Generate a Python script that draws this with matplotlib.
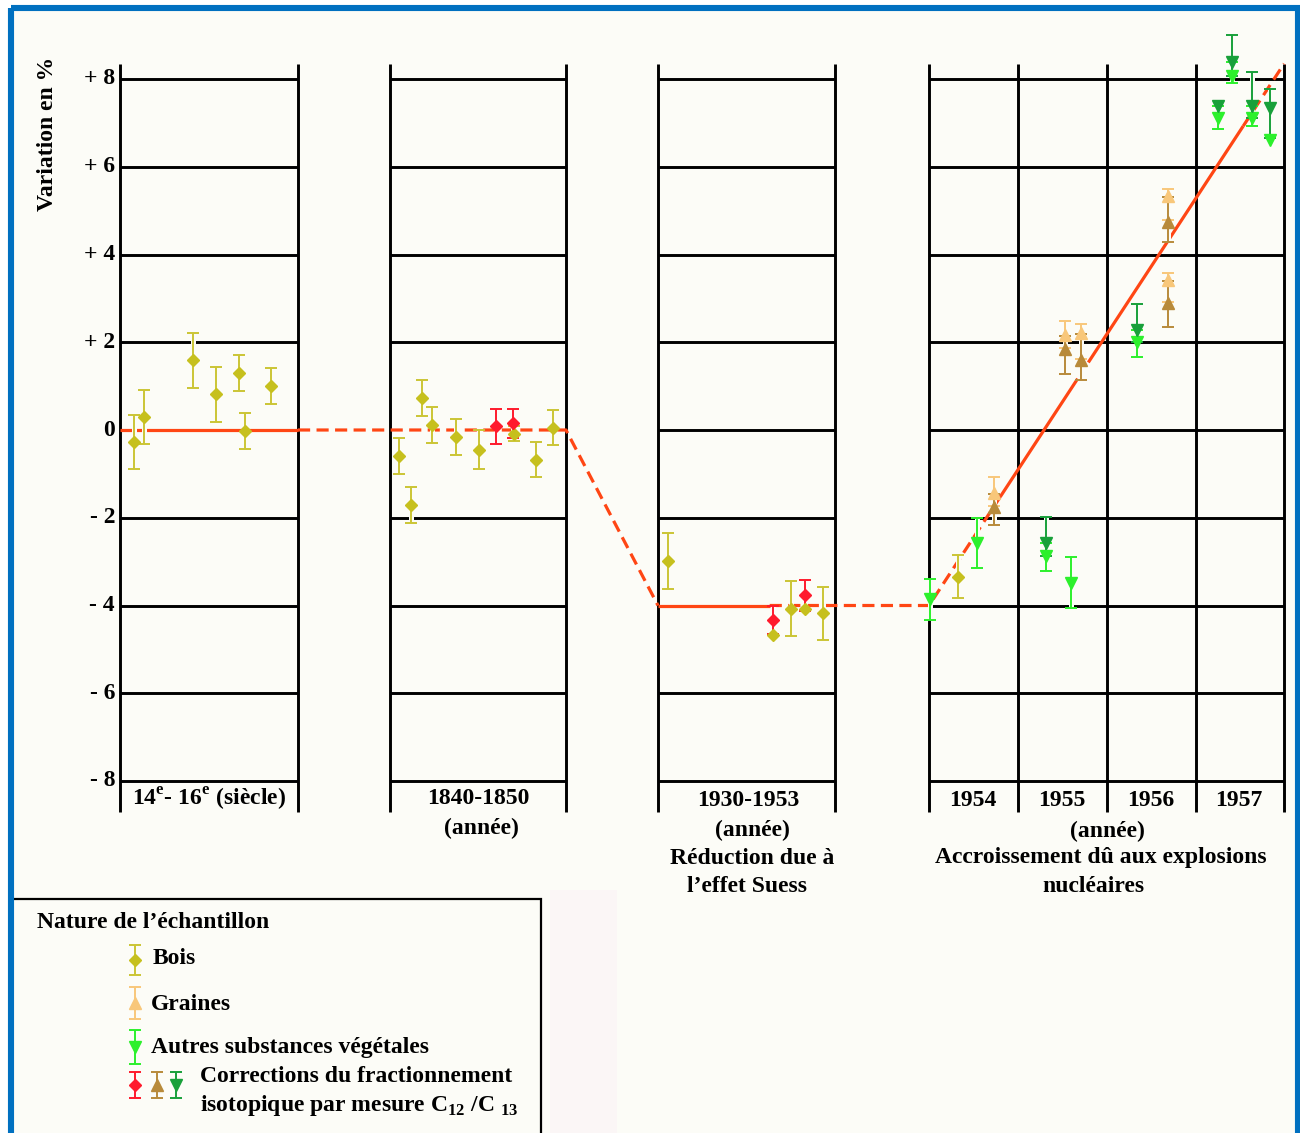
import numpy as np
import matplotlib
matplotlib.use('Agg')
import matplotlib.pyplot as plt
from matplotlib.patches import Rectangle
import matplotlib.patheffects as pe

nan = np.nan

# ---------------- data ----------------
ytick_vals = [8, 6, 4, 2, 0, -2, -4, -6, -8]
ytick_labels = ['+ 8', '+ 6', '+ 4', '+ 2', '0', '- 2', '- 4', '- 6', '- 8']

# panel boundaries (x units) ; last panel divided in years
panel_edges = [[0.0, 2.0], [3.034, 5.011], [6.045, 8.034],
               [9.09, 10.09, 11.09, 12.09, 13.08]]
panel_flat = [0, 0, -4, None]
year_labels = ['1954', '1955', '1956', '1957']

# Bois
bois_x = [0.157, 0.27, 0.82, 1.08, 1.34, 1.40, 1.70,
          3.13, 3.27, 3.39, 3.50, 3.77, 4.03, 4.43, 4.67, 4.86,
          6.16, 7.34, 7.54, 7.70, 7.90,
          9.412]
bois_y = [-0.27, 0.29, 1.59, 0.81, 1.31, -0.02, 1.01,
          -0.60, -1.71, 0.74, 0.11, -0.17, -0.45, -0.09, -0.68, 0.05,
          -2.98, -4.67, -4.07, -4.07, -4.18,
          -3.34]
bois_err = [0.62, 0.62, 0.63, 0.62, 0.41, 0.41, 0.41,
            0.41, 0.40, 0.41, 0.41, 0.41, 0.44, 0.17, 0.40, 0.40,
            0.64, nan, 0.62, nan, 0.61,
            0.49]

# Bois, corrections C12/C13
boisc_x = [4.22, 4.42, 7.34, 7.70]
boisc_y = [0.09, 0.15, -4.33, -3.77]
boisc_err = [0.40, 0.34, 0.33, 0.35]

# Graines
gr_x = [9.824, 10.618, 10.794, 11.77, 11.77]
gr_y = [-1.44, 2.16, 2.22, 5.33, 3.42]
gr_err_low = [0.30, 0.30, 0.60, 0.55, 0.50]
gr_err_high = [0.36, 0.33, 0.20, 0.17, 0.16]

# Graines, corrections
grc_x = [9.824, 10.618, 10.794, 11.77, 11.77]
grc_y = [-1.76, 1.84, 1.59, 4.75, 2.89]
grc_err_low = [0.40, 0.56, 0.46, 0.47, 0.55]
grc_err_high = [0.30, 0.30, 0.60, 0.55, 0.50]

# Autres substances vegetales
au_x = [9.101, 9.626, 10.401, 10.682, 11.43, 12.34, 12.49, 12.715, 12.92]
au_y = [-3.86, -2.58, -2.87, -3.48, 2.01, 7.10, 8.06, 7.10, 6.60]
au_err_low = [0.46, 0.57, 0.35, 0.58, 0.34, 0.24, 0.15, 0.18, nan]
au_err_high = [0.46, 0.57, 0.29, 0.58, 0.27, 0.28, 0.32, 0.28, nan]

# Autres, corrections
auc_x = [10.401, 11.43, 12.34, 12.49, 12.715, 12.92]
auc_y = [-2.58, 2.28, 7.38, 8.38, 7.38, 7.35]
auc_err_low = [0.29, 0.27, nan, 0.32, 0.28, 0.70]
auc_err_high = [0.60, 0.60, nan, 0.62, 0.78, 0.43]

# trend line nodes and segment styles
trend_x = [0.0, 2.0, 3.034, 5.011, 6.045, 7.30, 9.09, 9.89, 10.76, 10.88, 12.62, 13.08]
trend_y = [0.0, 0.0, 0.0, 0.0, -4.0, -4.0, -4.0, -1.524, 1.169, 1.54, 6.926, 8.35]
trend_style = ['-', '--', '--', '--', '-', '--', '--', '-', None, '-', '--']

# ---------------- style ----------------
plt.rcParams['font.family'] = ['Liberation Serif', 'DejaVu Serif']
plt.rcParams['mathtext.fontset'] = 'custom'
plt.rcParams['mathtext.rm'] = 'Liberation Serif:bold'
plt.rcParams['mathtext.bf'] = 'Liberation Serif:bold'

BG = '#fcfcf7'
BLUE = '#0070c0'
TREND = '#ff4614'
C_BOIS = '#c6c01e'
C_BOIS_E = '#cbc535'
C_RED = '#ff1a2c'
C_GR = '#f8c77a'
C_GRC = '#b88a3a'
C_AU = '#2cf02c'
C_AUC = '#18a03a'
FS = 17

W, H = 1300, 1133
fig = plt.figure(figsize=(W / 100, H / 100), dpi=100, facecolor='white')

# overlay in pixel coordinates (frame, legend, text)
ov = fig.add_axes([0, 0, 1, 1], zorder=0)
ov.set_xlim(0, W)
ov.set_ylim(H, 0)
ov.axis('off')
ov.add_patch(Rectangle((11, 8), 1287, 1200, facecolor=BG, edgecolor='none', zorder=0))
ov.add_patch(Rectangle((550, 890), 67, 300, facecolor='#fbf6f6', edgecolor='none', zorder=0.5))

# main axes : x units of 89 px starting at px 120, y 43.875 px/unit, 0 at px 430
ax = fig.add_axes([100 / W, 1 - 812 / H, (1295 - 100) / W, (812 - 15) / H], zorder=1)
ax.set_facecolor('none')
ax.set_xlim((100 - 120) / 89, (1295 - 120) / 89)
y_bot = (430 - 812) / 43.875
y_top_line = (430 - 64) / 43.875
ax.set_ylim(y_bot, (430 - 15) / 43.875)
ax.axis('off')

GRID_LW = 2.1
for i, edges in enumerate(panel_edges):
    ax.vlines(edges, y_bot, y_top_line, color='black', lw=GRID_LW, zorder=1, clip_on=False)
    for v in ytick_vals:
        if panel_flat[i] is not None and v == panel_flat[i]:
            continue
        ax.hlines(v, edges[0], edges[-1], color='black', lw=GRID_LW, zorder=1)

# trend line (group consecutive segments with the same style)
i = 0
n = len(trend_style)
while i < n:
    st = trend_style[i]
    j = i
    while j + 1 < n and trend_style[j + 1] == st:
        j += 1
    if st is not None:
        xs = trend_x[i:j + 2]
        ys = trend_y[i:j + 2]
        if st == '-':
            ax.plot(xs, ys, color=TREND, lw=2.3, solid_capstyle='butt', zorder=2)
        else:
            ax.plot(xs, ys, color=TREND, lw=2.3, linestyle=(0, (3.8, 2.0)),
                    dash_capstyle='butt', zorder=2)
    i = j + 1


def draw_series(axis, x, y, e, marker, color, ecolor, ms, z=5):
    cont = axis.errorbar(x, y, yerr=e, fmt=marker, ms=ms, color=color, mec=color,
                         mfc=color, ecolor=ecolor, elinewidth=1.4, capsize=4.3,
                         capthick=1.4, zorder=z)
    data_line, caps, bars = cont.lines
    data_line.set_clip_on(False)
    for c in caps:
        c.set_clip_on(False)
        c.set_zorder(4.5)
    for b in bars:
        b.set_clip_on(False)
        b.set_zorder(3)
        b.set_path_effects([pe.Stroke(linewidth=3.6, foreground=BG), pe.Normal()])
    return cont


draw_series(ax, bois_x, bois_y, bois_err, 'D', C_BOIS, C_BOIS_E, 6.0)
draw_series(ax, gr_x, gr_y, [gr_err_low, gr_err_high], '^', C_GR, C_GR, 8.5)
draw_series(ax, au_x, au_y, [au_err_low, au_err_high], 'v', C_AU, C_AU, 8.5)
draw_series(ax, boisc_x, boisc_y, boisc_err, 'D', C_RED, C_RED, 6.0, z=6)
draw_series(ax, grc_x, grc_y, [grc_err_low, grc_err_high], '^', C_GRC, C_GRC, 8.5, z=6)
draw_series(ax, auc_x, auc_y, [auc_err_low, auc_err_high], 'v', C_AUC, C_AUC, 8.5, z=6)

# y tick labels and title
for v, lab in zip(ytick_vals, ytick_labels):
    ov.text(115, 430 - v * 43.875, lab, ha='right', va='center', fontsize=FS,
            fontweight='bold', zorder=3)
ov.text(48, 134, 'Variation en %', rotation=90, ha='center', va='center',
        fontsize=FS, fontweight='bold', zorder=3)


def T(x, y, s, ha='center'):
    ov.text(x, y, s, ha=ha, va='center', fontsize=FS, fontweight='bold', zorder=3)


# panel captions
T(209, 799, '14$^{\\mathrm{e}}$- 16$^{\\mathrm{e}}$ (siècle)')
T(478, 799, '1840-1850')
T(481, 828, '(année)')
T(748, 800, '1930-1953')
T(752, 830, '(année)')
T(752, 858, 'Réduction due à')
T(747, 887, 'l’effet Suess')
for k, lab in enumerate(year_labels):
    xc = 120 + 89 * (panel_edges[3][k] + panel_edges[3][k + 1]) / 2
    T(xc - 1, 800, lab)
T(1107, 831, '(année)')
T(1101, 858, 'Accroissement dû aux explosions')
T(1093, 887, 'nucléaires')

# legend box
ov.add_patch(Rectangle((12, 899), 529, 300, facecolor='none', edgecolor='black',
                       lw=1.6, zorder=2))
T(37, 923, 'Nature de l’échantillon', ha='left')
draw_series(ov, [135], [960], [15], 'D', C_BOIS, C_BOIS_E, 6.0)
T(153, 958, 'Bois', ha='left')
draw_series(ov, [135], [1003], [16], '^', C_GR, C_GR, 8.5)
T(151, 1005, 'Graines', ha='left')
draw_series(ov, [135], [1047], [17], 'v', C_AU, C_AU, 8.5)
T(151, 1048, 'Autres substances végétales', ha='left')
draw_series(ov, [135], [1085], [13], 'D', C_RED, C_RED, 6.0)
draw_series(ov, [157], [1085], [13], '^', C_GRC, C_GRC, 8.5)
draw_series(ov, [176], [1085], [13], 'v', C_AUC, C_AUC, 8.5)
T(200, 1076, 'Corrections du fractionnement', ha='left')
T(200, 1105, 'isotopique par mesure C$_{\\mathbf{12}}$ /C $_{\\mathbf{13}}$', ha='left')

# blue frame on top
ov.add_patch(Rectangle((11, 8), 1287, 1200, facecolor='none', edgecolor=BLUE,
                       lw=4.4, zorder=10))

fig.savefig('out.png', dpi=100, facecolor='white')
